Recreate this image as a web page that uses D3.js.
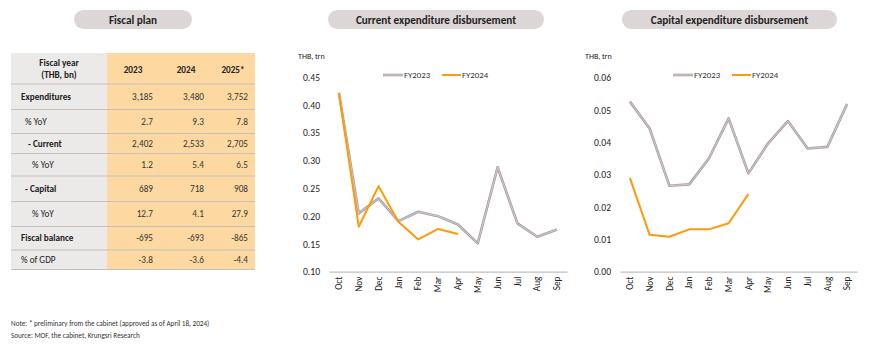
<!DOCTYPE html>
<html>
<head>
<meta charset="utf-8">
<script src="https://cdn.jsdelivr.net/npm/d3@7"></script>
<style>
  body { margin: 0; background: #fff; }
  svg { font-family: Carlito, Lato, "Open Sans", sans-serif; }
</style>
</head>
<body>
<div id="content"></div>
<script>
// data
var months = ['Oct','Nov','Dec','Jan','Feb','Mar','Apr','May','Jun','Jul','Aug','Sep'];

var curFY2023 = [0.422, 0.205, 0.232, 0.191, 0.208, 0.200, 0.185, 0.151, 0.288, 0.187, 0.163, 0.176];
var curFY2024 = [0.422, 0.181, 0.254, 0.190, 0.158, 0.177, 0.168];
var curTicks = [0.10, 0.15, 0.20, 0.25, 0.30, 0.35, 0.40, 0.45];

var capFY2023 = [0.0526, 0.0443, 0.0266, 0.0270, 0.0350, 0.0474, 0.0304, 0.0397, 0.0466, 0.0381, 0.0386, 0.0519];
var capFY2024 = [0.0290, 0.0114, 0.0108, 0.0131, 0.0131, 0.0150, 0.0240];
var capTicks = [0.00, 0.01, 0.02, 0.03, 0.04, 0.05, 0.06];

var tableYears = ['2023', '2024', '2025*'];
var tableRows = ['Expenditures', '% YoY', '- Current', '% YoY', '- Capital', '% YoY', 'Fiscal balance', '% of GDP'];
var tableValues = [
    ['3,185', '3,480', '3,752'],
    ['2.7', '9.3', '7.8'],
    ['2,402', '2,533', '2,705'],
    ['1.2', '5.4', '6.5'],
    ['689', '718', '908'],
    ['12.7', '4.1', '27.9'],
    ['-695', '-693', '-865'],
    ['-3.8', '-3.6', '-4.4']
];
var tableBold = [true, false, true, false, true, false, true, false];
var tableIndent = [0, 4, 7, 11, 4, 11, 0, 0];

var GRAY = '#a89e9e', GRAY_IN = '#ddd7d7', ORANGE = '#ff9a0a';
var FONT = 'Carlito, Lato, "Open Sans", sans-serif';

var width = 870, height = 358;
var svg = d3.select('#content').append('svg')
    .attr('width', width)
    .attr('height', height);

// title pills
function pill(x0, x1, label) {
    svg.append('rect')
        .attr('x', x0).attr('y', 10)
        .attr('width', x1 - x0).attr('height', 19)
        .attr('rx', 9.5)
        .attr('fill', '#ddd6d6');
    svg.append('text')
        .attr('x', (x0 + x1) / 2).attr('y', 23.8)
        .attr('text-anchor', 'middle')
        .attr('font-size', 11.2).attr('font-weight', 'bold')
        .attr('fill', '#222')
        .text(label);
}
pill(74, 192, 'Fiscal plan');
pill(328, 544, 'Current expenditure disbursement');
pill(622, 837, 'Capital expenditure disbursement');

// ---- table ----
var rowEdges = [53, 84, 109.5, 133.5, 153.5, 176, 201.5, 226.5, 250, 269.5];
var tX0 = 11, tSplit = 107, tX1 = 255;
var colRight = [153, 204, 248];
var colHead = [133, 186, 233];

var tbl = svg.append('g');
tbl.append('rect').attr('x', tX0).attr('y', rowEdges[0])
    .attr('width', tSplit - tX0).attr('height', rowEdges[9] - rowEdges[0])
    .attr('fill', '#ece9e9');
tbl.append('rect').attr('x', tSplit).attr('y', rowEdges[0])
    .attr('width', tX1 - tSplit).attr('height', rowEdges[9] - rowEdges[0])
    .attr('fill', '#fdd9a1');

tbl.selectAll('line.sep')
    .data(rowEdges.slice(1))
    .enter().append('line')
    .attr('x1', tX0).attr('x2', tX1)
    .attr('y1', function(d){ return d; }).attr('y2', function(d){ return d; })
    .attr('stroke', '#c4c0c0').attr('stroke-width', 1.2);

// header
tbl.append('text').attr('x', 59).attr('y', 66).attr('text-anchor', 'middle')
    .attr('font-size', 9.2).attr('font-weight', 'bold').attr('fill', '#222')
    .text('Fiscal year');
tbl.append('text').attr('x', 59).attr('y', 77.5).attr('text-anchor', 'middle')
    .attr('font-size', 9.2).attr('font-weight', 'bold').attr('fill', '#222')
    .text('(THB, bn)');
tbl.selectAll('text.yr')
    .data(tableYears)
    .enter().append('text')
    .attr('x', function(d, i){ return colHead[i]; })
    .attr('y', 72.5)
    .attr('text-anchor', 'middle')
    .attr('font-size', 9.2).attr('font-weight', 'bold').attr('fill', '#222')
    .text(function(d){ return d; });

var rowG = tbl.selectAll('g.row')
    .data(tableRows)
    .enter().append('g')
    .attr('class', 'row')
    .attr('transform', function(d, i){
        return 'translate(0,' + ((rowEdges[i + 1] + rowEdges[i + 2]) / 2 + 3.2) + ')';
    });
rowG.append('text')
    .attr('x', function(d, i){ return 21 + tableIndent[i]; })
    .attr('font-size', 9.2)
    .attr('font-weight', function(d, i){ return tableBold[i] ? 'bold' : 'normal'; })
    .attr('fill', '#222')
    .text(function(d){ return d; });
rowG.each(function(d, i){
    d3.select(this).selectAll('text.v')
        .data(tableValues[i])
        .enter().append('text')
        .attr('x', function(v, j){ return colRight[j]; })
        .attr('text-anchor', 'end')
        .attr('font-size', 9.2).attr('fill', '#333')
        .text(function(v){ return v; });
});

// notes
svg.append('text').attr('x', 11).attr('y', 326).attr('font-size', 7.2).attr('fill', '#333')
    .text('Note: * preliminary from the cabinet (approved as of April 18, 2024)');
svg.append('text').attr('x', 11).attr('y', 338).attr('font-size', 7.2).attr('fill', '#333')
    .text('Source: MOF, the cabinet, Krungsri Research');

// ---- line charts ----
function lineChart(opt) {
    var g = svg.append('g');
    var x = d3.scaleBand().domain(months).range([opt.x0, opt.x1]);
    var y = d3.scaleLinear().domain(opt.domain).range([opt.yBottom, opt.yTop]);

    g.append('text').attr('x', opt.unitX).attr('y', 59)
        .attr('font-size', 8).attr('fill', '#222').text('THB, trn');

    var yAxis = g.append('g')
        .attr('transform', 'translate(' + (opt.x0 - 6) + ',0)')
        .call(d3.axisLeft(y).tickValues(opt.ticks).tickSize(0).tickFormat(d3.format(opt.fmt)));
    yAxis.select('.domain').remove();
    yAxis.selectAll('text').attr('font-size', 9.6).attr('fill', '#222')
        .attr('font-family', FONT);

    var xAxis = g.append('g')
        .attr('transform', 'translate(0,' + opt.yBottom + ')')
        .call(d3.axisBottom(x).tickSize(0));
    xAxis.select('.domain').attr('stroke', '#c0c0c0').attr('stroke-width', 1.2);
    xAxis.selectAll('text')
        .attr('font-size', 9.2).attr('fill', '#222')
        .attr('font-family', FONT)
        .attr('transform', 'rotate(-90)')
        .attr('text-anchor', 'end')
        .attr('x', -5).attr('y', 0).attr('dy', '0.35em');

    var line = d3.line()
        .x(function(d, i){ return x(months[i]) + x.bandwidth() / 2; })
        .y(function(d){ return y(d); });

    g.append('path').datum(opt.s1).attr('d', line)
        .attr('fill', 'none').attr('stroke', GRAY).attr('stroke-width', 2.6)
        .attr('stroke-linejoin', 'round');
    g.append('path').datum(opt.s1).attr('d', line)
        .attr('fill', 'none').attr('stroke', GRAY_IN).attr('stroke-width', 0.8)
        .attr('stroke-linejoin', 'round');
    g.append('path').datum(opt.s2).attr('d', line)
        .attr('fill', 'none').attr('stroke', ORANGE).attr('stroke-width', 2)
        .attr('stroke-linejoin', 'round');

    // legend
    var lg = g.append('g').attr('transform', 'translate(' + opt.legendX + ',75)');
    lg.append('line').attr('x1', 0).attr('x2', 20).attr('stroke', GRAY).attr('stroke-width', 2.6);
    lg.append('line').attr('x1', 0).attr('x2', 20).attr('stroke', GRAY_IN).attr('stroke-width', 0.8);
    lg.append('text').attr('x', 21).attr('y', 3.2).attr('font-size', 8.8).attr('fill', '#333').text('FY2023');
    lg.append('line').attr('x1', 59).attr('x2', 78).attr('stroke', ORANGE).attr('stroke-width', 2);
    lg.append('text').attr('x', 79).attr('y', 3.2).attr('font-size', 8.8).attr('fill', '#333').text('FY2024');
}

lineChart({
    x0: 329, x1: 567, yTop: 77.3, yBottom: 271.7,
    domain: [0.10, 0.45], ticks: curTicks, fmt: '.2f',
    s1: curFY2023, s2: curFY2024, unitX: 298, legendX: 383
});
lineChart({
    x0: 620, x1: 857, yTop: 77.7, yBottom: 271.7,
    domain: [0.00, 0.06], ticks: capTicks, fmt: '.2f',
    s1: capFY2023, s2: capFY2024, unitX: 585, legendX: 673
});
</script>
</body>
</html>
